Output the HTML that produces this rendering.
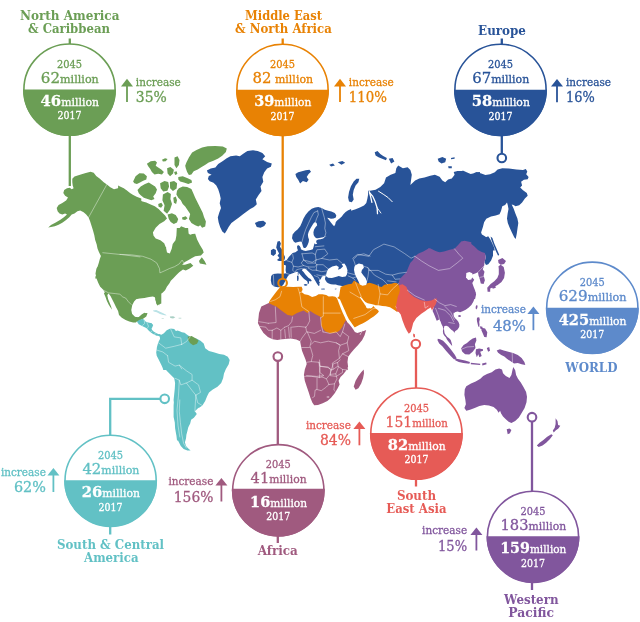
<!DOCTYPE html>
<html lang="en"><head><meta charset="utf-8"><title>Diabetes prevalence by region 2017-2045</title>
<style>html,body{margin:0;padding:0;background:#fff}svg{display:block}</style></head>
<body><svg width="640" height="622" viewBox="0 0 640 622">
<rect width="640" height="622" fill="#fff"/>
<g id="map">
<path d="M206.9 170.4L210.7 168.6L215.4 167.6L218.2 163.9L222.9 161L226.7 158.2L230.4 156.3L236.1 155.4L239.8 156.3L243.6 153.5L247.4 151.1L253 150.3L257.7 151.1L262.4 152.9L265.2 156.3L262.4 159.2L267.1 162L271.8 163.5L270.9 166.7L267.1 168.6L264.3 172.3L262.4 177L263.3 181.7L260.5 186.4L261.5 191.1L258.6 194.9L255.8 199.6L256.8 204.3L253.9 207.1L250.2 209L246.4 211.8L242.7 214.6L238.9 217.5L235.1 220.3L231.4 223.1L228.6 226.9L226.7 230.6L224.8 233.4L222.3 231.6L220.1 226.9L218.6 222.2L217.8 217.5L219.2 212.8L221 208.1L219.7 203.3L220.7 198.6L219.7 193.9L218.2 189.2L216.3 185.5L213.5 182.7L209.7 181.2L207.9 178.9L208.8 176.1L211.6 174.8L207.9 172.9ZM254.9 223.1L258.6 221.2L263.3 220.7L266.2 223.1L264.3 225.9L260.5 227.8L256.8 226.9ZM295.4 174.1L298.2 172.2L302 171.3L305.7 170.3L309.5 169.8L311 171.7L308.6 174.1L306.7 176.9L308.6 179.7L306.7 182.2L302.9 181.1L300.1 183.5L298.2 179.7L296.3 176.9ZM329.2 164.7L333 163.4L334.9 165.6L331.1 166.6ZM337.7 162.3L342.4 160.9L345.2 162.8L341.5 164.7ZM348.1 197.6L349 192L350.9 186.3L353.7 181.6L356.5 178.8L359.3 178.8L358.4 182.2L355.6 185.4L353.7 190.1L352.8 194.8L353.7 199.5L351.8 202.3L349 201.4ZM293.7 241.6L292 238.3L292.6 234.5L294.8 231.7L297.5 229.5L300.2 226.2L301.9 222.4L303.5 218.6L305.7 214.8L308.4 211.5L311.7 208.7L315 207.4L318.3 207.1L321.6 207.9L324.8 209.8L328.1 210.7L331.4 211.5L334.7 213.1L336.3 215.3L335.8 217.5L333.6 218.6L330.9 218.8L328.7 218L327.2 217.7L329.2 220.2L330.9 222.4L332.5 224.6L334.1 226.2L335.2 224.6L335.8 221.9L337.4 220.2L339.6 218.6L341.8 216.4L343.4 214.2L345.6 212L347.8 210.4L351.1 209L351.1 239.4L324.8 236.6L323.2 237.2L320.5 237.7L317.7 238.3L316.6 238.3L315 237.2L313.7 235L313.4 232.3L314.1 229.5L315.5 227.3L317.2 225.2L316.6 223L315 221.9L313.4 223.5L311.7 226.2L310.1 229L308.7 231.7L307.9 234.5L308.2 237.2L309 239.4L308.7 242.1L307.9 244.3L306.8 246.5L305.4 248.1L303.8 248.1L303 246.5L302.4 244.3L301.7 242.1L300.2 241.6L298 242.1L295.3 242.7ZM277.5 241.6L279.7 240.9L280.9 243.6L280 246.7L282.2 249.8L283.4 253.4L285 256.9L284.7 259.4L282.2 260.9L278.8 260.9L276.9 260L279.4 258.1L277.5 255.6L279.1 253.4L277.5 250.6L276.2 247.5L276.9 244.1ZM270.9 250.3L273.4 248.8L275.9 250L275.9 253.8L273.4 255.9L270.9 254.4ZM284.1 264.9L283.2 262.5L285 262.5L286.9 259.7L288.8 256.9L290.7 255L292.6 253.1L295.4 252.2L296.4 251.4L298 250.3L297.3 248.7L297 246.5L298 245.1L299.7 245.9L300.8 248.1L300.8 249.2L301.9 249.8L303.5 250.5L305.7 250.9L307.9 250.5L310.6 250.1L312.8 249.2L313.4 247.6L313.9 245.4L314.5 243.2L315.5 244.3L317.2 243.7L316.1 242.1L316.6 240.2L318.3 239.6L320.5 239.2L323.2 238.5L324.8 237L327 236.1L327 227.3L329.2 220.2L330.9 222.4L332.5 224.6L334.1 226.2L335.2 224.6L335.8 221.9L337.4 220.2L339.6 218.6L341.8 216.4L343.4 214.2L345.6 212L347.8 210.4L350.9 210.8L355.6 209.3L359.9 207.4L364 205.5L366.3 202.9L367.4 198.6L368.2 193.9L370.6 192L372.5 194.8L373.1 199.5L374.4 204.2L375.3 208.9L376.3 213.6L378.1 214.5L380 210.8L379.1 206.1L377.2 200.4L378.1 195.7L381 192.9L381.9 188.2L384.7 184.4L387.5 179.7L391.3 177.9L391.3 264.9ZM371.6 260L371.6 287.3L348.1 287.3L340.7 285.8L337.9 285.2L335.8 284.4L333.3 284.6L330.9 284.2L328.8 283.4L327 282.4L325.6 280.6L324.9 278.9L325.4 277.1L325.9 275.4L324.9 275.7L323.5 276.1L322.1 276.4L321.4 277.8L320.7 279.2L319.6 279.9L318.9 281L320 282.4L319.3 283.4L319.6 285.2L318.6 285.9L317.5 284.5L316.4 282.7L315.4 281L314.3 279.2L313.4 277.5L312.2 275.7L310.8 274L309.1 272.2L307.3 270.4L305.5 269L304.1 268.7L302.7 269L302 270.6L303.6 272.1L305.2 274.2L307 276.3L308.7 277.9L310.5 279.1L311.7 280.4L311 281.5L309.8 281L308.9 281.5L309.1 282.7L308.5 283.9L307.5 283.4L307.7 282L306.3 280.4L304.1 278.9L302 276.8L300.3 274.7L298.5 272.5L296.4 271.1L297.3 271.4L295 272.5L291.9 273.4L289.5 274.4L288 275.9L286.4 278.8L284.8 281.9L283.3 284.7L280.9 286.9L277.8 287.3L273.9 286.6L271.6 284.2L270.8 280.3L271.2 275.9L273.1 274.1L277.8 273.4L282.5 273.8L286.2 273.3L285.6 270.2L285.9 266.2L284.8 263.4L282.2 261.9L284.8 260.8L287.2 260ZM303.8 284.4L305.5 283.9L307.5 284.4L307 285.6L305.2 285.8L304 285.2ZM297 275.7L298.4 275.4L298.7 278.5L298.2 281L297.1 280.8ZM297.7 272.5L298.5 272.4L298.7 274.7L297.8 274.8ZM321 288.7L324.5 288.6L324.9 289.4L321.4 289.6ZM334.4 289.1L336.5 288.6L336.1 289.6ZM348.1 228.1L471.3 228.1L471.3 252.6L461 252.6L455.3 267.6L406.4 287.4L348.1 287.4ZM368.1 190.8L370 190.8L375.6 189.8L380.3 187L384.1 183.3L386 177.6L390.7 174.8L395.4 172.9L396.3 168.2L398.2 165.4L402.9 168.2L407.6 167.3L410.4 170.1L411.8 174.8L411 180.4L410.4 185.1L415.1 180.4L419.3 178.6L424.5 177.6L430.2 175.7L434.9 174.8L439.6 176.7L442.4 180.4L445.2 182.3L448.1 179.5L451.8 178.6L454.6 174.8L453.7 172L457.5 171L462.2 171L465.9 172.9L470.6 173.9L475.3 172.9L480 172L480 258.5L368.1 258.5ZM374.7 152.2L377.5 150.9L380.3 154.1L383.2 156L386.9 157.9L386 160.3L382.2 158.8L378.5 157.3L375.6 155.4ZM388.8 158.8L392.6 157.9L394.4 161.6L391.1 163.5ZM437.7 158.8L442.4 156.9L446.2 158.8L445.2 162.2L441.5 163.5L438.6 161.6ZM450.9 157.9L454.6 157.3L454.6 158.8L451.2 159.2ZM448.1 166.3L451.8 166.3L451.8 168.2L448.6 168.2ZM458.1 173.6L460 173.3L462.8 170.4L466.6 172.3L471.3 174.2L476 172.3L480.7 173.3L485.4 175.1L490.1 174.2L494.8 172.3L497.6 169.5L502.3 168.2L508.9 168.6L516.4 169.5L523 169.9L525.8 169.1L527.3 171.4L526.2 174.2L528.6 177L527.7 179.3L523.9 179.8L521.1 181.7L522.1 185.5L520.2 187.4L523 190.2L526.8 193L527.7 195.8L524.9 198.6L522.1 202.4L519.2 205.2L515.5 206.2L513.6 204.9L511.7 204.5L513.6 208.6L515.5 213.7L517.4 218.4L518.3 223.1L517.6 227.8L516.8 233.4L515.7 239.1L514.2 237.2L511.9 232.5L509.7 227.8L507.8 223.1L507 218.4L507.6 213.7L508.5 209L507.8 205.2L507 202.4L505.1 204.9L502.3 206.2L501 210.9L499.5 214.3L495.7 215.6L491 216.5L486.3 218.8L484.1 222.2L482.9 226.9L481.1 232.5L482.2 235.3L485.4 237.6L488.2 236.3L490.1 239.1L492 242.8L493.9 247L494.8 250.4L458.1 250.4ZM428.1 218.1L483.6 218.1L481.7 225.6L479.8 233.2L484.5 236L488.3 238.8L491.1 244.4L493 250.1L493 255.7L491.1 260.4L488.3 264.2L486 265.1L484.5 262.3L485.7 257.6L484.9 253.5L428.1 257.6ZM490.6 236.6L492.4 237.9L494.3 243.5L496.8 249.2L499.2 254.8L498.1 255.7L495.8 251L493.6 245.4L491.3 239.7Z" fill="#285398"/>
<path d="M398.5 283.6L399.8 278.9L403.6 275.1L406.4 272.3L408.3 267.6L410.2 262.9L413 260.1L414.9 256.3L418.6 253.5L423.3 251.6L428.1 248.8L432.8 249.7L438.4 252.6L444 251.6L449.7 249.7L454.4 248.8L458.1 245L461 241.7L465.7 240.9L471.3 242.2L471.3 302.4L432.8 302.4L425.2 303.7L419.6 302.4L414.9 300L410.2 296.2L407.4 291.5L404.5 287.7L398.5 284.9ZM428.1 248.2L430 248.2L435.6 251L441.3 252.9L448.8 252L454.4 250.1L459.2 246.3L461 241.6L464.8 240.7L469.5 242.6L474.2 246.3L478 250.1L481.7 252L484.9 252.9L485.7 257.6L484.5 262.3L484.2 265.7L482.7 269.3L484.5 271.7L483.6 275.5L484.9 280.2L483.6 283.9L480.8 283.6L479.8 279.2L478.5 275.5L478 272.3L475.1 273.6L472.3 274.5L468.6 273.6L466.7 276.4L469.5 278.3L472.3 277.4L474.2 279.8L472.3 283L473.6 286.8L475.1 290.5L476.1 294.3L475.1 299L474.4 298.8L473.3 301.8L471.4 305L468.7 307.5L465.7 309.7L462.5 311.2L460.1 312.2L457.5 311.6L455.6 312L454.4 313.1L450.7 308.4L448.8 302.8L428.1 302.8ZM476.7 305L477.6 305.7L477.3 307.9L476.3 309.5L475.6 308.2L475.8 306.3ZM498.1 259.9L502.4 258L506 261L504.1 264L500.7 264.8L498.5 262.9ZM500.7 264.8L503.7 267L504.9 272.7L504.1 277.9L501.5 282.1L497.7 285.1L493.6 287L489.8 288.8L487.9 287L490.6 283.9L494.3 281.3L497.3 277.9L498.8 274.2L498.8 269.3L498.5 266.3ZM487.2 287.3L490.2 288.1L490.2 291.8L487.6 291.8ZM492.1 287.3L495.5 286.2L495.8 287.7L492.8 288.8ZM436.4 298.1L475.7 292.5L475.7 295L474.5 298.8L473.2 301.9L471.3 305L468.8 307.5L465.7 309.7L462.6 311.3L460 312.2L457.5 311.6L455.7 311.9L454 312.2L453.5 313.8L453.8 316.3L455.1 318.2L457 320L458.5 321.9L459.4 324.4L459.2 326.9L457.6 329.4L455.1 331.3L454 333.5L454.2 332.6L453.2 331L451.3 329.7L449.8 328.2L448.2 326.6L446.3 325.7L444.4 326L443.9 328.2L444.2 330.7L444.6 333.2L445.7 335.1L447.3 337L449.1 338.2L450.7 340.1L451.5 342.6L452.1 344.8L452.1 345.9L451.3 345.1L449.8 343.2L448.2 341.3L446.9 339.5L446 337.6L444.4 335.7L443.2 333.8L442.9 331.3L443.2 328.8L442.6 326.3L441.6 324.4L440.7 321.9L439.4 319.4L438.2 320L436.9 320.7L436.6 320.6L435.4 317.5L433.9 313.7L432.6 310.9ZM458.2 315.4L459.7 314.9L461.1 315.7L460.7 316.8L459.1 317.1L458 316.3ZM437.8 338.8L440 339.2L443.1 340.8L447 344.7L450.9 349.4L454.8 354.8L456.7 358.3L454.1 359.4L450.2 355.6L446.2 350.9L442.3 346.2L439.2 343.4L437.5 340.3ZM455.3 358.4L460.3 359.4L465 360.6L470 361.9L469.4 363.8L463.4 363L458.8 361.9L455.2 360.3ZM461 348.5L463.6 345.1L467 342.9L469.8 340.4L472.7 338.6L476 337.6L476.4 340.4L474.9 344.2L475.5 348L472.7 351.7L469.3 354.5L465.1 354.2L462.3 351.7ZM476 349.3L479.2 348.5L483 349.3L483 350.8L480.2 351.7L481.7 356L479.4 357.2L478.3 354.2L476.8 357.2L475.5 353ZM477.3 317.6L479.2 317.3L479.8 319.5L479.2 322L479.5 324.5L479.2 327.3L478.2 326.3L477.6 323.8L477 321.3L476.8 319.1ZM481.7 327.8L485.1 328.6L487.3 332.3L486.6 337.2L484.3 336.9L482.8 333.5L481.3 330.1ZM479.8 326.3L482.4 326.7L482.8 329.3L480.6 329ZM496.7 350.4L499.9 349.3L503.7 350.4L508.4 351.7L513.1 353L517.8 354.9L521.6 357.9L524.4 362.1L525.3 364.9L521.6 364.3L517.8 363L514 363.6L510.3 361.1L506.9 358.7L504.3 356.4L501.2 354.9L498.1 352.7ZM482.1 363.6L486.2 362.6L486.6 364.3L482.4 365.5ZM470.8 362.8L480.2 363.8L480.2 365.1L470.8 364.3ZM486.8 348L489.2 347L490 350.8L488.1 351.7ZM464.8 389.2L466.3 386.3L471 383.5L475.7 381.6L480.4 378.8L483.2 376L487 374.1L491.7 372.2L495.4 369.4L499.2 368.5L502 369.4L503 373.2L505.8 376L509.5 377.9L511.4 375L512.4 370.3L513.3 367.1L515.2 370.3L516.1 375L518 378.8L520.8 382.6L523.6 387.3L526.1 392L527 396.7L526.5 402.3L524.6 408L521.8 412.7L518.9 417.4L515.2 421.1L511.4 423L508.6 421.7L505.8 419.2L503 416.4L501.1 413.6L500.1 410.8L498.6 412.7L496.8 409.8L493.6 407L488.9 405.5L484.2 405.1L479.4 406.1L474.7 408L470 409.8L466.3 410.8L464.4 408L465.9 404.2L465.3 399.5L464.4 394.8ZM506.7 429.2L509.5 428.6L511.4 430L509.9 433.3L507.7 434.3ZM555.6 418.3L557.5 421.1L558.1 424.9L560.3 425.8L558.4 428.6L555.6 430.5L553.7 432.4L552.8 430.5L554.7 427.7L555.6 423.9ZM551.3 434.3L552.8 435.2L550 439L546.2 442.8L542.5 445.6L538.7 446.9L536.8 445.6L539.6 442.8L543.4 439.9L547.2 436.7Z" fill="#81569d"/>
<path d="M402.5 284.3L406.3 286.8L408.8 292.4L413.8 296.8L420.1 299.9L426.4 301.2L431.4 300.6L433.9 299.3L436.4 298.3L437 300.6L435.8 304.3L433.3 308.1L432 310.6L430.8 307.5L427.6 309.3L425.1 311.2L421.3 313.7L416.3 318.1L413.2 323.1L411.9 328.2L410.7 331.9L408.8 333.8L406.9 330.7L405 326.9L402.5 320.6L400.7 314.4L398.8 311.9L395.6 310.9L396.3 307.5L395 303.1L395 290.5L399.4 284.9ZM413.3 333.4L414.8 334.2L415.1 336.9L413.8 337.4L413.1 335.4Z" fill="#e65b56"/>
<path d="M268.8 303L269.7 300.8L271.6 298L274.4 294.2L277.3 290.4L280.1 287.2L282.9 287.6L287.6 286.7L293.3 287.1L298.9 286.7L301.7 286.7L302.7 289.5L301.7 292.3L304.5 294.2L308.3 295.1L312.1 297L315.8 296.1L318.6 294.2L322.4 294.2L326.2 295.1L328.7 296.4L332.5 296.2L335.3 296.7L336.7 297.9L337.7 300L339.1 303.7L340.9 308.4L342.8 313.1L344.7 316.9L346.1 320.2L347.3 322.4L349.7 324.8L348.5 324.8L342.1 329.6L337.2 333.7L330 334.5L321.5 332.8L272.6 332.8L270.7 306.4ZM337.2 298.1L339.1 296.2L339.5 293.4L340 290.6L340.5 287.8L340.5 287.1L344.1 285.4L348.3 284.2L351.8 283.7L353.3 281.4L354 280.4L356.1 281.8L358.2 283.3L360.3 284L362.5 285.1L366 284.7L367.4 283.3L369.5 282.8L373.1 283.7L376.6 285.1L379.4 286.5L381.6 287.1L384.4 284.7L387.9 284L391.5 283.7L394.3 282.8L397.1 283.3L398.5 284.2L399.2 287.1L399.9 290.3L399.2 293.2L397.8 296.7L397.1 300.2L396.4 303.8L395.7 306.6L396.4 309.4L397.5 312L393.6 309.4L390 307.3L385.8 306.3L382.3 305.9L378.7 305.2L378.4 305.2L375.6 305.2L374.2 304.7L372.3 304.2L370 303.7L367.7 303.3L365.3 301.9L363.4 300L362 298.1L360.2 296.7L359.7 297.2L360.2 298.1L361.6 300L363 301.9L363.9 303.3L364.8 304.7L365.8 306.1L366.2 307.5L367.7 308.4L369.5 308.2L370.9 308.4L372.3 307.5L373.3 306.1L374.2 307L375.6 308.4L377.5 309.8L378.9 311.2L378 312.7L376.1 314.5L373.7 316.4L370.9 318.3L368.1 320.2L365.3 322L362.5 323.4L359.7 324.8L356.9 326.2L355 327.2L354.5 327.2L353.1 325.3L351.2 322.5L348.9 319.2L347 315.5L345.2 311.2L343.3 307L341.4 302.8L340 299.5Z" fill="#e88204"/>
<path d="M272.6 304.9L276.3 306.4L281 310.2L287.6 314.9L292.3 315.8L297 313L303.6 310.6L307.4 313L310.2 311.1L314.9 313.9L321.5 317.3L321.1 325.2L323.3 329L325.2 331.2L330 333.3L334 332.9L337.2 332.1L339.6 330.5L342.1 327.2L344.1 323.2L345.7 320.4L346.5 320.8L347.3 322.4L349.7 324.8L351.7 327.2L353.3 329.6L354.9 332.1L357.3 332.9L360.5 332.1L363.8 330.9L366.2 330L364.6 335.3L362.2 340.1L358.1 344.9L354.1 349.3L350.9 353L348.5 356.2L347.3 360.2L346.9 364.2L347.7 368.2L348.1 370L340.3 370.4L308.3 370.4L307.4 362.8L305.5 357.2L303.6 352.5L302.7 347.8L303.6 344L300.8 341.2L297 338.4L292.3 337.5L287.6 338.4L282 339.3L277.3 339.9L272.6 339.3L267.9 336.9L263.5 333.1L260.3 328.1L257.9 323L258.5 317.7L259 313L261.3 306.4L268.8 303ZM268.1 334.7L360.3 334.7L363.1 330L360.3 333.8L356.5 338.5L353.7 343.2L350.9 347.9L349 352.6L348.1 357.3L347.5 362L348.1 366.7L346.2 370.4L343.3 374.2L340.5 377L338.6 380.8L339.6 384.5L337.7 388.3L334.9 393L331.1 397.7L327.4 401.1L322.7 403.3L318 404.9L314.2 405.2L312.3 402.4L310.4 397.7L308.6 392.1L306.7 386.4L304.8 380.8L303.9 375.1L304.8 369.5L306.7 363.9L305.7 360.1L303.9 355.4L302 350.7L301 346L300.1 341.3L296.3 339.4L290.7 338.5L285 339L279.4 339.4L274.7 338.5L270 336.6L268.1 336.6ZM353.7 386.4L355.6 380.8L358.4 376.1L361.2 372.3L363.7 369.5L364 373.3L363.1 378L361.2 383.6L358.4 388.3L355.6 389.8Z" fill="#a05a7f"/>
<path d="M72.3 178.8L74.5 176.6L79.2 175L84.9 173.2L90.5 171.7L93.7 172.8L96.2 176L99.9 178.8L103.7 182.2L106.9 184.4L110.3 187.3L114 189.2L117.8 188.2L122.5 188.2L126.3 190.1L130 192.9L132.8 194.8L136.6 196.7L141.3 198.6L141.3 278.5L95.2 278.5L96.2 272.8L97.1 268.1L98.6 263.4L99.9 258.7L100.9 255.9L99 252.2L97.5 248.4L96.7 244.6L95.2 239.9L94.3 235.2L93 230.5L91.5 225.8L90 221.1L88.6 217.4L86.2 214.5L83.6 212.3L80.2 210.4L77.4 211.2L74.5 213.6L71.7 214.5L69.3 217.2L66.1 220L62.3 222.8L58.6 224.7L54.8 226.2L51 227.1L48.2 227.5L51 224.9L55.7 222.4L60.4 219.8L64.2 217L67 214.5L65.1 213.6L62.3 214.5L59.5 213.6L57.6 211.2L56.7 208L58.6 205.1L62.3 202.9L66.1 200.4L68 197.6L65.1 195.7L63.3 192.9L64.2 190.1L67 188.2L69.8 187.8L71.7 189.2L73.6 188.2L72.7 185.4L72.3 182.2ZM118.1 185.5L120 186.4L123.8 188.3L127.5 191.1L131.3 193.9L135 197.3L138.8 200L142.6 201.5L146.3 202.4L150.1 204.3L154.8 206.2L158.6 209L162.3 212.8L165.1 215.6L167 218.4L164.2 221.2L159.5 224L155.7 227.8L152.9 232.5L153.9 237.2L157.6 240L162.3 242.8L166.1 247L166.1 250.4L118.1 250.4ZM133.1 181.4L135.6 176.3L139.4 173.2L143.8 173.6L146.9 176.3L146.3 179.5L143.2 180.7L140 182.6L136.9 183.9L134.4 183.2ZM137.5 190.1L140.7 186.4L145 183.9L148.8 182.6L151.9 184.5L155.1 186.4L157 189.5L155.7 193.3L153.2 196.4L154.5 198.9L151.3 200.2L147.6 198.9L143.8 197.7L140.7 195.2L138.8 193.3ZM146.9 163.8L150.7 161.3L155.1 160.7L157 162.6L155.7 165.7L158.2 167.6L161.3 169.5L163.9 172L162 174.5L158.2 173.8L154.5 174.5L151.9 172L150.1 168.8L148.2 166.3ZM167.1 168.2L170.4 166.9L173.9 169.8L173.1 173.6L170.1 176.3L167.6 173.6ZM174.1 172L176.6 171.3L177.4 174.1L175.1 175.1ZM162 159.8L165.1 158.2L167.6 159L165.7 161.3L162.9 161.6ZM160.1 183.2L164.5 181.1L168.2 182L169.1 186.4L167.4 190.8L163.2 191.6L160.7 188.3ZM169.9 182L174.1 181.1L177.1 183.2L176.6 188.6L172.9 190.9L170.1 188.3ZM178.3 177L182.7 176.3L187.7 178.2L191.4 180.1L192.1 182.6L188.3 183.9L183.9 182.6L180.2 181.4L178.3 179.5ZM174.5 157.5L177.6 156.3L179.5 160L178.9 165.1L176.4 168.2L174.5 165.1ZM186.4 162.6L188.9 157.5L192.1 152.5L196.5 150L202.1 147.5L207.7 146.3L215.3 146L222.8 146.5L226.8 148.5L225.9 151.9L222.2 155.7L218.2 158.5L213.4 160.7L208.7 162.6L205 165.1L201.2 167.3L197.7 169.5L193.7 171.3L191.4 174.5L188.9 175.1L187.1 172L185.8 168.2L185.2 165.7ZM162.9 194.5L167.6 192L170.9 193.9L170.4 198.9L172 203.9L170.1 209.6L167.1 213.7L163.6 210.8L164.6 205.2L162.4 200.2ZM158.2 203.9L161.3 202.7L162.9 205.2L161.1 207.7L158.6 206.7ZM173.3 197.7L175.8 196.4L177 200.2L176.1 203.9L173.9 202.7ZM178.9 188.3L182.7 186.4L187.1 187L191.4 188.9L193.3 193.3L195.2 197.7L197.7 202.7L200.2 207.7L202.7 212.7L204 217.1L205.9 221.5L205.2 226.5L202.1 227.8L200.2 225.3L198.3 226.5L195.2 225.3L191.4 223L188.9 219L190.2 214L187.7 210.2L185.2 206.4L182.7 203.9L180.8 200.2L178.3 197.7L176.4 194.5L177 190.8ZM167.6 214.5L171.9 213.2L175.7 215.1L178.2 218.9L177 222.6L173.8 223.9L170.7 222L168.8 218.9ZM182 217.6L185.7 216.3L187.6 218.2L185.1 220.1L182.4 219.5ZM169.3 216.5L172.7 214.6L175.5 218.4L174.5 222.2L170.8 221.2ZM176.4 250.4L177.4 241L176.4 235.3L178.3 229.7L181.1 226.3L184.9 227.8L187.7 232.5L190.5 235.3L194.3 239.1L196.2 242.8L197.5 250.4ZM118.1 228.1L152 228.1L152 230L152.9 234.7L155.7 238.5L160.4 240.3L164.2 243.2L166.1 247.9L167 252.6L169.8 253.5L171.7 248.8L172.7 244.1L175.5 240.3L176.4 235.6L176.8 228.1L188.1 228.1L188.8 235.3L192.4 234.1L195.2 233.8L197.1 239.4L199.9 245L202.8 249.7L203.7 252.6L200.9 255.4L195.2 256.3L191.5 258.2L188.6 260.1L184.9 262L182.1 264.8L184.9 264.8L190.5 262.9L193.3 265.7L189.6 268.6L185.8 270.4L183 269.5L179.2 272.3L176.4 275.1L173.6 278L170.8 280.8L169.3 283.6L167 286.4L165.1 290.2L162.3 293L159.5 294.9L157.6 297.7L158.6 301.5L159.5 305.2L157.6 304.3L155.7 300.5L154.8 297.3L152 295.8L148.2 296.2L144.4 296.8L140.7 297.7L136.9 298.6L134.1 301.5L132.2 305.2L131.3 309.9L132.2 314.6L135 317.5L138.8 316.9L141.6 314.6L144.4 312.8L147.3 313.7L146.3 316.5L143.5 318.4L140.7 319.9L138.8 322.2L136.9 321.2L134.1 320.3L130.3 318.4L126.6 315.6L122.8 312.8L118.1 309ZM199 261L201.8 257.3L204.6 261L206.5 264.8L202.8 263.9L199.9 263.5ZM161.3 248.1L161.3 303.6L158.9 304.5L157.5 300.8L155.7 297.4L152.8 296.6L149.1 297L144.4 298L139.7 298.5L135.9 299.3L133.1 301.7L131.2 305.5L130.8 310.2L132.2 313.9L135 316.8L138.7 317.7L142.5 316.8L144.4 313.9L147.6 313L146.3 315.8L143.4 318.1L140.6 319.2L137.8 320.5L135.9 322.4L133.1 322.4L129.3 321.5L125.6 320L121.8 317.7L119 314.9L118.1 311.1L116.2 307.4L114.3 303.6L112.4 299.8L110.5 296.1L108.6 293.6L107.3 295.1L108.1 298.9L109.6 302.7L111.1 306.4L112 309.8L110.5 307.4L108.6 304.5L106.8 300.8L105.5 297L103.9 293.3L104.9 292.3L103 289.5L100.2 286.7L98.3 282.9L96.4 278.2L95.5 273.5L96.4 268.8L98.3 265L100.2 261.3L102.1 257.5L101.1 253.8L99.2 248.1Z" fill="#6b9e55"/>
<path d="M136.9 321.5L139.7 320L143.1 319.2L145.3 321.5L148.1 322.4L151.9 323.3L152.8 326.2L151 328.1L152.8 330.9L155.7 332.8L158.5 334.6L161.3 335L161.3 336.5L156.6 335.6L152.8 333.7L149.1 330.9L146.3 328.1L142.5 326.2L138.7 324.3ZM141.3 321.9L146 322.8L149.7 325.6L151.6 329.4L154.4 332.2L158.2 334.1L161 335L163.9 333.2L166.7 330.3L170.4 328.5L174.2 329L176.1 331.3L179.3 331.7L183.6 333.2L187.4 335.4L190.2 336.9L193 337.9L196.8 338.8L200.5 340.7L203.7 343.5L205.2 348.2L209 351L213.7 352.3L219.3 353.9L224 354.8L227.8 356.7L229.7 359.9L228.7 364.2L225.9 368.9L224 373.6L223.1 378.3L221.2 383L217.5 386.8L212.8 389.6L209 392.4L207.1 396.2L205.2 400.9L202.4 405.6L199.6 407.5L196.8 408.4L194.9 411.2L196.8 414L193.9 417.8L191.1 419.7L190.2 423.4L188.3 427.2L187.4 431L186.4 434.7L185.5 440.4L177 440.4L176.1 432.8L175.1 428.1L174.8 422.5L173.6 416.9L173.6 411.2L174.2 405.6L173.6 399.9L174.2 394.3L174.8 388.6L175.1 383L174.2 378.3L170.4 374.5L166.7 370.8L162.9 366.1L160.1 361.4L157.3 356.7L156.3 352L156.9 347.3L158.2 342.6L160.1 338.8L159.7 336.6L156.3 335L152.6 333.2L148.8 329.4L146 325.6L141.3 323.8ZM204.3 398.1L203.3 403.8L200.5 406.6L197.7 408.5L194.9 411.3L193 415L192.1 417.9L190.2 420.7L189.2 424.4L187.4 428.2L185.5 431L186.4 434.8L186 438.6L184.9 442.3L186 446.1L188.3 448.5L190.6 450.4L187.4 450.4L183.6 448.9L180.8 446.1L178.9 442.3L177 438.6L176.1 433.9L175.1 428.2L174.8 422.6L174.2 416.9L173.6 411.3L173.6 405.6L174.2 398.1ZM137.9 320.8L139.8 319.7L142 319.1L144.1 319.5L146.3 322.4L149.1 323L151.8 323.5L153.2 324.9L152.3 327.3L151.2 329.5L151.8 331.2L152.9 332.3L155.1 333.4L157.3 334.5L159.5 333.9L161.1 334.8L162.7 336.1L163.8 333.9L166 331.7L168.2 330.1L170.9 329L173.1 330.1L175.3 331.2L177.5 330.6L179.7 331.2L181.9 332.3L184.6 332.8L186.8 334.5L189 336.1L190.6 337.7L192.8 339.4L196.1 341.6L196.1 370L163.3 370L162.7 368L161.6 365.6L160 362.3L158.4 359.1L156.7 355.8L156.2 352.5L156.7 349.2L157.8 345.9L159.5 343.2L161.1 339.9L162 337.7L160 336.3L158.4 335.4L156.7 335.8L154.5 334.7L152.3 333.6L150.2 331.9L148.5 330.3L146.9 328.1L144.1 326.5L141.4 325.4L139.2 323.7L138.1 321.5Z" fill="#62c1c5"/>
<path d="M355.4 265.3L358.9 263.6L363 264.4L363.9 267.8L361.9 270.1L361.3 272.6L363.3 275.2L365.6 278L367 281.8L366.1 285.1L362.5 285.7L359.8 284.4L358.2 280.7L356.4 277.2L354.7 273.6L354 269.8L354.4 266.7Z" fill="#fff"/>
<path d="M325.9 275.9L326.6 272.5L328.1 269.1L332.2 266.6L336.4 265.6L338.8 267L338.1 269.7L340.6 268.8L343.1 266.2L341.6 264.1L344.4 263.4L346.2 266.2L347.5 270.2L346.9 274.4L345.6 276.6L342.2 276.9L338.8 275.9L335.6 276.9L331.9 278.1L328.1 277.8Z" fill="#fff"/>
<path d="M466.3 272.9L469.4 272L472.3 273.2L472.5 276.4L471.3 279.5L468.2 280.1L466 277.6Z" fill="#fff"/>
<path d="M187.7 336.7L191.6 335.9L195.5 338.3L198.6 340.6L197 343.8L193.1 345.3L190 343L188.1 339.8Z" fill="#6b9e55"/>
<path d="M152.9 310.4L156.2 310.1L159.5 311.5L162.7 313.1L166 314.8L166.6 315.5L163.3 315L160 313.9L156.7 312.2L153.7 311.5Z" fill="#b9e2e6"/>
<path d="M169.8 316.4L173.1 316.2L175.3 317.3L173.1 318.4L170.4 318Z" fill="#a9cfc4"/>
<path d="M178.6 317.8L181.3 317.8L181.3 318.5L178.6 318.5Z" fill="#a9cfc4"/>
<path d="M161.6 317.9L163.8 318.2L163.8 318.7L161.7 318.6Z" fill="#a9cfc4"/>
<path d="M156.2 298.9L157.8 302.2L158.4 304.9L157.3 305.5L156.2 303.3L155.4 298.9Z" fill="#6b9e55"/>
<path d="M370 193.2L372.8 196.4L375.3 202.1L377.1 207.7L377.5 213.7" fill="none" stroke="#fff" stroke-width="1.3" stroke-opacity="1" stroke-linejoin="round" stroke-linecap="round"/>
<path d="M377.1 207.7L380.9 213" fill="none" stroke="#fff" stroke-width="0.9" stroke-opacity="1" stroke-linejoin="round" stroke-linecap="round"/>
<path d="M378.5 191.2L383.2 194.2L387.9 197.4L392.2 201.7" fill="none" stroke="#fff" stroke-width="1.0" stroke-opacity="1" stroke-linejoin="round" stroke-linecap="round"/>
<path d="M369.3 191.6L370.6 196.7L371.9 202.3" fill="none" stroke="#fff" stroke-width="1.3" stroke-opacity="1" stroke-linejoin="round" stroke-linecap="round"/>
<path d="M106.9 184.4L88.6 217.4" fill="none" stroke="#fff" stroke-width="0.7" stroke-opacity="0.6" stroke-linejoin="round" stroke-linecap="round"/>
<path d="M102.8 252.7L121.6 254.6L140 256.9" fill="none" stroke="#fff" stroke-width="0.7" stroke-opacity="0.6" stroke-linejoin="round" stroke-linecap="round"/>
<path d="M120 254.4L131.3 254.8L142.6 256.3L151 259.2L156.7 262.9L159.5 268.6L159.9 272.9L164.2 271L169.3 268.6L174.5 266.7L179.2 263.9L182.1 260.1L183.9 262.9" fill="none" stroke="#fff" stroke-width="0.7" stroke-opacity="0.6" stroke-linejoin="round" stroke-linecap="round"/>
<path d="M103.9 290.4L108.6 292.9L115.2 293.6L119.9 294.2L122.8 297L125.6 298L128.4 301.7L131.2 304.5" fill="none" stroke="#fff" stroke-width="0.7" stroke-opacity="0.6" stroke-linejoin="round" stroke-linecap="round"/>
<path d="M281.6 291.2L280 296.7L275.3 299.8L270.6 301.4" fill="none" stroke="#fff" stroke-width="0.7" stroke-opacity="0.6" stroke-linejoin="round" stroke-linecap="round"/>
<path d="M298 288.1L299.5 292.8L300.3 296.7L301.1 302.2L301.9 306.9L308.9 311.6" fill="none" stroke="#fff" stroke-width="0.7" stroke-opacity="0.6" stroke-linejoin="round" stroke-linecap="round"/>
<path d="M299.5 292.8L301.9 292L302.7 289.7" fill="none" stroke="#fff" stroke-width="0.7" stroke-opacity="0.6" stroke-linejoin="round" stroke-linecap="round"/>
<path d="M323.3 296.7L323.3 316.2L320.6 317.8" fill="none" stroke="#fff" stroke-width="0.7" stroke-opacity="0.6" stroke-linejoin="round" stroke-linecap="round"/>
<path d="M323.3 313.1L340.2 313.1" fill="none" stroke="#fff" stroke-width="0.7" stroke-opacity="0.6" stroke-linejoin="round" stroke-linecap="round"/>
<path d="M275.3 306.9L276.1 322.5L268.3 323.3" fill="none" stroke="#fff" stroke-width="0.7" stroke-opacity="0.6" stroke-linejoin="round" stroke-linecap="round"/>
<path d="M292.5 317L291.7 321.7L288.6 325.6L284.7 327.2" fill="none" stroke="#fff" stroke-width="0.7" stroke-opacity="0.6" stroke-linejoin="round" stroke-linecap="round"/>
<path d="M308.9 312.3L309.7 320.9L307.3 325.6L305.8 327.2" fill="none" stroke="#fff" stroke-width="0.7" stroke-opacity="0.6" stroke-linejoin="round" stroke-linecap="round"/>
<path d="M291.7 327.2L298.8 326.4L305.8 327.2" fill="none" stroke="#fff" stroke-width="0.7" stroke-opacity="0.6" stroke-linejoin="round" stroke-linecap="round"/>
<path d="M320.6 317.8L321.4 325.6L323 331.9" fill="none" stroke="#fff" stroke-width="0.7" stroke-opacity="0.6" stroke-linejoin="round" stroke-linecap="round"/>
<path d="M307.3 331.9L314.4 333.4L320.6 330.3" fill="none" stroke="#fff" stroke-width="0.7" stroke-opacity="0.6" stroke-linejoin="round" stroke-linecap="round"/>
<path d="M305.8 327.2L306.6 331.9L301.9 338.1L300.3 341.2" fill="none" stroke="#fff" stroke-width="0.7" stroke-opacity="0.6" stroke-linejoin="round" stroke-linecap="round"/>
<path d="M272.2 330.3L272.2 338.9" fill="none" stroke="#fff" stroke-width="0.7" stroke-opacity="0.6" stroke-linejoin="round" stroke-linecap="round"/>
<path d="M280.8 330.3L280.8 338.9" fill="none" stroke="#fff" stroke-width="0.7" stroke-opacity="0.6" stroke-linejoin="round" stroke-linecap="round"/>
<path d="M284.7 329.5L285.5 338.1" fill="none" stroke="#fff" stroke-width="0.7" stroke-opacity="0.6" stroke-linejoin="round" stroke-linecap="round"/>
<path d="M288.6 327.2L289.4 337.3" fill="none" stroke="#fff" stroke-width="0.7" stroke-opacity="0.6" stroke-linejoin="round" stroke-linecap="round"/>
<path d="M290.9 327.2L291.2 337.3" fill="none" stroke="#fff" stroke-width="0.7" stroke-opacity="0.6" stroke-linejoin="round" stroke-linecap="round"/>
<path d="M258.9 321.7L264.4 322.5L268.3 323.3" fill="none" stroke="#fff" stroke-width="0.7" stroke-opacity="0.6" stroke-linejoin="round" stroke-linecap="round"/>
<path d="M259.7 326.4L265.9 327.2L268.3 330.3L272.2 330.3" fill="none" stroke="#fff" stroke-width="0.7" stroke-opacity="0.6" stroke-linejoin="round" stroke-linecap="round"/>
<path d="M272.2 330.3L276.9 328L280.8 330.3L284.7 327.2" fill="none" stroke="#fff" stroke-width="0.7" stroke-opacity="0.6" stroke-linejoin="round" stroke-linecap="round"/>
<path d="M301.9 347.5L309.7 347.5L311.2 341.2L307.3 331.9" fill="none" stroke="#fff" stroke-width="0.7" stroke-opacity="0.6" stroke-linejoin="round" stroke-linecap="round"/>
<path d="M310.5 347.5L312.8 355.3L311.2 361.6L319.1 362.3L319.8 366.2L328.4 367L330.8 370.2L333.1 369.4L332.3 363.1L339.4 358.4L338.6 350.6L340.2 345.2L336.2 342.8L328.4 341.2L320.6 342.8L314.4 341.2L311.2 344.4" fill="none" stroke="#fff" stroke-width="0.7" stroke-opacity="0.6" stroke-linejoin="round" stroke-linecap="round"/>
<path d="M306.6 362.3L311.2 361.6" fill="none" stroke="#fff" stroke-width="0.7" stroke-opacity="0.6" stroke-linejoin="round" stroke-linecap="round"/>
<path d="M319.1 362.3L319.8 372.5L323.8 375.6L316.7 376.4L306.6 375.6" fill="none" stroke="#fff" stroke-width="0.7" stroke-opacity="0.6" stroke-linejoin="round" stroke-linecap="round"/>
<path d="M323 331.9L330 333.4L336.2 331.9L340.2 336.6L342.5 331.9L344.8 324.1" fill="none" stroke="#fff" stroke-width="0.7" stroke-opacity="0.6" stroke-linejoin="round" stroke-linecap="round"/>
<path d="M336.2 342.8L340.2 345.2L347.2 342.8L348.8 336.6L342.5 331.9" fill="none" stroke="#fff" stroke-width="0.7" stroke-opacity="0.6" stroke-linejoin="round" stroke-linecap="round"/>
<path d="M347.2 342.8L348.8 350.6L342.5 353.8L339.4 358.4" fill="none" stroke="#fff" stroke-width="0.7" stroke-opacity="0.6" stroke-linejoin="round" stroke-linecap="round"/>
<path d="M342.5 353.8L348.8 356.9L351.1 363.1" fill="none" stroke="#fff" stroke-width="0.7" stroke-opacity="0.6" stroke-linejoin="round" stroke-linecap="round"/>
<path d="M349.5 370.2L342.5 369.4L337.8 366.2L333.1 369.4" fill="none" stroke="#fff" stroke-width="0.7" stroke-opacity="0.6" stroke-linejoin="round" stroke-linecap="round"/>
<path d="M330.8 370.2L330 375.6L336.2 376.4L342.5 372.5L342.5 369.4" fill="none" stroke="#fff" stroke-width="0.7" stroke-opacity="0.6" stroke-linejoin="round" stroke-linecap="round"/>
<path d="M303.5 376.3L311.3 376.3L319.5 377.6L322 376.9" fill="none" stroke="#fff" stroke-width="0.7" stroke-opacity="0.6" stroke-linejoin="round" stroke-linecap="round"/>
<path d="M317 378.2L317 389.5L315.1 390.1L314.5 396.4L312.6 397.6" fill="none" stroke="#fff" stroke-width="0.7" stroke-opacity="0.6" stroke-linejoin="round" stroke-linecap="round"/>
<path d="M317 389.5L321.3 390.7L326.4 387L328.9 384.5" fill="none" stroke="#fff" stroke-width="0.7" stroke-opacity="0.6" stroke-linejoin="round" stroke-linecap="round"/>
<path d="M322 376.9L326.4 378.8L328.9 384.5" fill="none" stroke="#fff" stroke-width="0.7" stroke-opacity="0.6" stroke-linejoin="round" stroke-linecap="round"/>
<path d="M326.4 378.8L330.1 374.4L335.8 373.8L337 378.8L334.5 383.8L328.9 384.5" fill="none" stroke="#fff" stroke-width="0.7" stroke-opacity="0.6" stroke-linejoin="round" stroke-linecap="round"/>
<path d="M334.5 383.8L333.9 390.1L335.1 391.3" fill="none" stroke="#fff" stroke-width="0.7" stroke-opacity="0.6" stroke-linejoin="round" stroke-linecap="round"/>
<path d="M319.5 360L320.1 366.3L319.5 377.6" fill="none" stroke="#fff" stroke-width="0.7" stroke-opacity="0.6" stroke-linejoin="round" stroke-linecap="round"/>
<path d="M320.1 366.3L327.6 367.5L331.4 369.4L330.1 374.4" fill="none" stroke="#fff" stroke-width="0.7" stroke-opacity="0.6" stroke-linejoin="round" stroke-linecap="round"/>
<path d="M335.8 373.8L338.3 367.5L337.6 362.5L340.2 360" fill="none" stroke="#fff" stroke-width="0.7" stroke-opacity="0.6" stroke-linejoin="round" stroke-linecap="round"/>
<path d="M331.4 369.4L333.3 363.8L337.6 362.5" fill="none" stroke="#fff" stroke-width="0.7" stroke-opacity="0.6" stroke-linejoin="round" stroke-linecap="round"/>
<path d="M327.2 397L328.2 396L329.2 397L328.2 398L327.2 397" fill="none" stroke="#fff" stroke-width="0.7" stroke-opacity="0.6" stroke-linejoin="round" stroke-linecap="round"/>
<path d="M273.4 274.8L273.9 286.6" fill="none" stroke="#fff" stroke-width="0.7" stroke-opacity="0.6" stroke-linejoin="round" stroke-linecap="round"/>
<path d="M286.2 273.3L289.5 274.4" fill="none" stroke="#fff" stroke-width="0.7" stroke-opacity="0.6" stroke-linejoin="round" stroke-linecap="round"/>
<path d="M287.2 260.8L291.9 262.3L293.4 266.2L292.7 270.2L295 272.5" fill="none" stroke="#fff" stroke-width="0.7" stroke-opacity="0.6" stroke-linejoin="round" stroke-linecap="round"/>
<path d="M291.9 262.3L293.4 258.4L292.7 254.5" fill="none" stroke="#fff" stroke-width="0.7" stroke-opacity="0.6" stroke-linejoin="round" stroke-linecap="round"/>
<path d="M302 253.8L303.6 260L301.2 263.1L303.6 265.5" fill="none" stroke="#fff" stroke-width="0.7" stroke-opacity="0.6" stroke-linejoin="round" stroke-linecap="round"/>
<path d="M293.4 266.2L298.1 267L303.6 265.5L308.3 267" fill="none" stroke="#fff" stroke-width="0.7" stroke-opacity="0.6" stroke-linejoin="round" stroke-linecap="round"/>
<path d="M295 272.5L296.6 269.7L301.2 268.6L306.7 269.1" fill="none" stroke="#fff" stroke-width="0.7" stroke-opacity="0.6" stroke-linejoin="round" stroke-linecap="round"/>
<path d="M302 253.8L312.2 253L315.3 254.5L316.1 260L312.2 262.3L303.6 260" fill="none" stroke="#fff" stroke-width="0.7" stroke-opacity="0.6" stroke-linejoin="round" stroke-linecap="round"/>
<path d="M303.6 260L307.5 263.1L315.3 263.1L316.1 260" fill="none" stroke="#fff" stroke-width="0.7" stroke-opacity="0.6" stroke-linejoin="round" stroke-linecap="round"/>
<path d="M308.3 267L314.5 267L316.9 264.7L315.3 263.1" fill="none" stroke="#fff" stroke-width="0.7" stroke-opacity="0.6" stroke-linejoin="round" stroke-linecap="round"/>
<path d="M316.1 260L321.6 258.4L329.4 260L337.2 259.2L341.9 263.1" fill="none" stroke="#fff" stroke-width="0.7" stroke-opacity="0.6" stroke-linejoin="round" stroke-linecap="round"/>
<path d="M316.9 264.7L323.1 264.7L327.8 268.6" fill="none" stroke="#fff" stroke-width="0.7" stroke-opacity="0.6" stroke-linejoin="round" stroke-linecap="round"/>
<path d="M316.9 264.7L316.1 270.2L321.6 271.7L327 270.9" fill="none" stroke="#fff" stroke-width="0.7" stroke-opacity="0.6" stroke-linejoin="round" stroke-linecap="round"/>
<path d="M316.9 274.8L321.6 275.9L326.2 274.8" fill="none" stroke="#fff" stroke-width="0.7" stroke-opacity="0.6" stroke-linejoin="round" stroke-linecap="round"/>
<path d="M308.3 268.1L312.2 270.2L316.9 270.2" fill="none" stroke="#fff" stroke-width="0.7" stroke-opacity="0.6" stroke-linejoin="round" stroke-linecap="round"/>
<path d="M314.5 275.6L318.4 277.2L320 280.3" fill="none" stroke="#fff" stroke-width="0.7" stroke-opacity="0.6" stroke-linejoin="round" stroke-linecap="round"/>
<path d="M315.3 254.5L316.9 249.8L324.7 249.1L327.8 253.8L321.6 258.4" fill="none" stroke="#fff" stroke-width="0.7" stroke-opacity="0.6" stroke-linejoin="round" stroke-linecap="round"/>
<path d="M315.3 246.7L323.9 245.9" fill="none" stroke="#fff" stroke-width="0.7" stroke-opacity="0.6" stroke-linejoin="round" stroke-linecap="round"/>
<path d="M348.1 275.9L352.8 278L355.2 280.3" fill="none" stroke="#fff" stroke-width="0.7" stroke-opacity="0.6" stroke-linejoin="round" stroke-linecap="round"/>
<path d="M346.6 272.5L355.2 274.8" fill="none" stroke="#fff" stroke-width="0.7" stroke-opacity="0.6" stroke-linejoin="round" stroke-linecap="round"/>
<path d="M352.8 278L357.5 276.4" fill="none" stroke="#fff" stroke-width="0.7" stroke-opacity="0.6" stroke-linejoin="round" stroke-linecap="round"/>
<path d="M354.4 258.4L357.5 255.3L363.8 253.8L370 256.1" fill="none" stroke="#fff" stroke-width="0.7" stroke-opacity="0.6" stroke-linejoin="round" stroke-linecap="round"/>
<path d="M301.9 242.1L303.5 236.1L305.7 229.5L308.4 223.5L311.2 217.5L313.9 212.6L317.7 210.9" fill="none" stroke="#fff" stroke-width="0.7" stroke-opacity="0.6" stroke-linejoin="round" stroke-linecap="round"/>
<path d="M317.7 210.9L318.3 214.8L316.6 218.6L315.5 221.9" fill="none" stroke="#fff" stroke-width="0.7" stroke-opacity="0.6" stroke-linejoin="round" stroke-linecap="round"/>
<path d="M321.6 207.9L322.7 212L324.3 217.5L325.4 223L324.8 228.4L325.9 232.8L324.8 236.6" fill="none" stroke="#fff" stroke-width="0.7" stroke-opacity="0.6" stroke-linejoin="round" stroke-linecap="round"/>
<path d="M355.6 266.7L354.7 262.9L352.8 258.2L357.5 254.4L368.8 256.3L373.5 249.7L383.9 244.1L394.2 246.9L404.5 253.5L411.1 258.2L414.9 256.3" fill="none" stroke="#fff" stroke-width="0.7" stroke-opacity="0.6" stroke-linejoin="round" stroke-linecap="round"/>
<path d="M362.2 265.7L367.9 267.6L368.8 270.4L378.2 270.4L385.7 274.2L392.3 275.1L398.9 273.3L406.4 272.3" fill="none" stroke="#fff" stroke-width="0.7" stroke-opacity="0.6" stroke-linejoin="round" stroke-linecap="round"/>
<path d="M367.9 267.6L374.4 275.1L382.9 279.8L387.6 284.5" fill="none" stroke="#fff" stroke-width="0.7" stroke-opacity="0.6" stroke-linejoin="round" stroke-linecap="round"/>
<path d="M368.8 270.4L367.9 277L366 284.2" fill="none" stroke="#fff" stroke-width="0.7" stroke-opacity="0.6" stroke-linejoin="round" stroke-linecap="round"/>
<path d="M392.3 275.1L395.1 279.3L399.8 278.9" fill="none" stroke="#fff" stroke-width="0.7" stroke-opacity="0.6" stroke-linejoin="round" stroke-linecap="round"/>
<path d="M387.6 280.8L396.1 281.9" fill="none" stroke="#fff" stroke-width="0.7" stroke-opacity="0.6" stroke-linejoin="round" stroke-linecap="round"/>
<path d="M414.9 256.3L421.5 261L429 265.7L438.4 270.4L449.7 268.6L457.2 262.9L462.8 258.2L459.1 254.4L454.4 248.8" fill="none" stroke="#fff" stroke-width="0.7" stroke-opacity="0.6" stroke-linejoin="round" stroke-linecap="round"/>
<path d="M378.2 284.5L380.1 293.9L378.2 304.3" fill="none" stroke="#fff" stroke-width="0.7" stroke-opacity="0.6" stroke-linejoin="round" stroke-linecap="round"/>
<path d="M380.1 293.9L387.6 294.9L392.3 289.2L398.5 283.6" fill="none" stroke="#fff" stroke-width="0.7" stroke-opacity="0.6" stroke-linejoin="round" stroke-linecap="round"/>
<path d="M355.6 282.7L358.5 290.2L361.3 296.8" fill="none" stroke="#fff" stroke-width="0.7" stroke-opacity="0.6" stroke-linejoin="round" stroke-linecap="round"/>
<path d="M350 292.1L359.4 297.7" fill="none" stroke="#fff" stroke-width="0.7" stroke-opacity="0.6" stroke-linejoin="round" stroke-linecap="round"/>
<path d="M353.8 318.4L365 314.6L372.6 309L378.2 307.1" fill="none" stroke="#fff" stroke-width="0.7" stroke-opacity="0.6" stroke-linejoin="round" stroke-linecap="round"/>
<path d="M407.4 290.2L414.9 295.8L424.3 300" fill="none" stroke="#fff" stroke-width="0.7" stroke-opacity="0.6" stroke-linejoin="round" stroke-linecap="round"/>
<path d="M424.3 302.4L425.2 308.1L428.1 306.2" fill="none" stroke="#fff" stroke-width="0.7" stroke-opacity="0.6" stroke-linejoin="round" stroke-linecap="round"/>
<path d="M478 272.3L480.8 269.3L484.2 265.7" fill="none" stroke="#fff" stroke-width="0.7" stroke-opacity="0.6" stroke-linejoin="round" stroke-linecap="round"/>
<path d="M479.8 277.4L484.2 276.4" fill="none" stroke="#fff" stroke-width="0.7" stroke-opacity="0.6" stroke-linejoin="round" stroke-linecap="round"/>
<path d="M435.6 308.4L438.5 315.9L440.3 323.4L443.2 329.1" fill="none" stroke="#fff" stroke-width="0.7" stroke-opacity="0.6" stroke-linejoin="round" stroke-linecap="round"/>
<path d="M438.5 308.4L445 310.3L450.7 315.9L453.5 321.6" fill="none" stroke="#fff" stroke-width="0.7" stroke-opacity="0.6" stroke-linejoin="round" stroke-linecap="round"/>
<path d="M445 306.5L450.7 312.2L454.4 319.7" fill="none" stroke="#fff" stroke-width="0.7" stroke-opacity="0.6" stroke-linejoin="round" stroke-linecap="round"/>
<path d="M448.8 322.5L454.4 323.4" fill="none" stroke="#fff" stroke-width="0.7" stroke-opacity="0.6" stroke-linejoin="round" stroke-linecap="round"/>
<path d="M434.7 299L439.4 302.8L445 305.6L450.7 304.6L456.3 306.5" fill="none" stroke="#fff" stroke-width="0.7" stroke-opacity="0.6" stroke-linejoin="round" stroke-linecap="round"/>
<path d="M170.4 328.5L174.2 336.9L180.8 337.9L181.7 344.4" fill="none" stroke="#fff" stroke-width="0.7" stroke-opacity="0.6" stroke-linejoin="round" stroke-linecap="round"/>
<path d="M181.7 344.4L186.4 341.6L190.2 336.9" fill="none" stroke="#fff" stroke-width="0.7" stroke-opacity="0.6" stroke-linejoin="round" stroke-linecap="round"/>
<path d="M158.2 342.6L165.7 348.2L174.2 346.3L181.7 344.4" fill="none" stroke="#fff" stroke-width="0.7" stroke-opacity="0.6" stroke-linejoin="round" stroke-linecap="round"/>
<path d="M156.9 350.1L162.9 352L167.6 355.7" fill="none" stroke="#fff" stroke-width="0.7" stroke-opacity="0.6" stroke-linejoin="round" stroke-linecap="round"/>
<path d="M167.6 355.7L168.6 362.3L175.1 366.1L179.3 365.1L181.7 368.9" fill="none" stroke="#fff" stroke-width="0.7" stroke-opacity="0.6" stroke-linejoin="round" stroke-linecap="round"/>
<path d="M179.3 365.1L186.4 370.8L192.1 374.5L192.1 380.2L186.4 383L180.8 384.9L179.3 380.2L175.1 378.3" fill="none" stroke="#fff" stroke-width="0.7" stroke-opacity="0.6" stroke-linejoin="round" stroke-linecap="round"/>
<path d="M192.1 380.2L198.6 384.9L200.5 392.4L195.8 395.2L192.1 390.5L186.4 383" fill="none" stroke="#fff" stroke-width="0.7" stroke-opacity="0.6" stroke-linejoin="round" stroke-linecap="round"/>
<path d="M179.3 380.2L178.5 395.2L177 410.3L178 425.3L179.8 437" fill="none" stroke="#fff" stroke-width="0.7" stroke-opacity="0.6" stroke-linejoin="round" stroke-linecap="round"/>
<path d="M195.8 395.2L197.7 402.8L202.4 405.6" fill="none" stroke="#fff" stroke-width="0.7" stroke-opacity="0.6" stroke-linejoin="round" stroke-linecap="round"/>
<path d="M195.8 395.2L194.9 411.2" fill="none" stroke="#fff" stroke-width="0.7" stroke-opacity="0.6" stroke-linejoin="round" stroke-linecap="round"/>
<path d="M179.8 400L179.3 411.3L180.4 422.6L181.7 433.9L183.6 443.3L186.4 448" fill="none" stroke="#fff" stroke-width="0.7" stroke-opacity="0.6" stroke-linejoin="round" stroke-linecap="round"/>
<path d="M144.1 319.5L144.7 323.5L142.5 325.4" fill="none" stroke="#fff" stroke-width="0.7" stroke-opacity="0.6" stroke-linejoin="round" stroke-linecap="round"/>
<path d="M146.9 322.6L148.5 326.2L147.4 328.2" fill="none" stroke="#fff" stroke-width="0.7" stroke-opacity="0.6" stroke-linejoin="round" stroke-linecap="round"/>
<path d="M151.8 331.2L150.7 331.9" fill="none" stroke="#fff" stroke-width="0.7" stroke-opacity="0.6" stroke-linejoin="round" stroke-linecap="round"/>
<path d="M155.1 333.4L154.7 334.7" fill="none" stroke="#fff" stroke-width="0.7" stroke-opacity="0.6" stroke-linejoin="round" stroke-linecap="round"/>
<path d="M512.2 353L512.5 363" fill="none" stroke="#fff" stroke-width="0.7" stroke-opacity="0.6" stroke-linejoin="round" stroke-linecap="round"/>
<path d="M461.4 349.3L467 347L473.6 346.6" fill="none" stroke="#fff" stroke-width="0.7" stroke-opacity="0.6" stroke-linejoin="round" stroke-linecap="round"/>
</g>
<path d="M69.8 38.5V186" stroke="#6b9e55" stroke-width="2.3" fill="none"/>
<path d="M282.7 38.5V278.5" stroke="#e88204" stroke-width="2.3" fill="none"/>
<circle cx="282.6" cy="283" r="4.3" fill="none" stroke="#e88204" stroke-width="2.1"/>
<path d="M501.8 38.5V154" stroke="#285398" stroke-width="2.3" fill="none"/>
<circle cx="501.8" cy="158" r="4.3" fill="#fff" stroke="#285398" stroke-width="2.1"/>
<path d="M110.2 534.5V398.8H160.2" stroke="#62c1c5" stroke-width="2.3" fill="none"/>
<circle cx="164.7" cy="398.8" r="4.3" fill="#fff" stroke="#62c1c5" stroke-width="2.1"/>
<path d="M277.8 543V361" stroke="#a05a7f" stroke-width="2.3" fill="none"/>
<circle cx="277.8" cy="356.6" r="4.3" fill="#fff" stroke="#a05a7f" stroke-width="2.1"/>
<path d="M416 486.5V348.5" stroke="#e65b56" stroke-width="2.3" fill="none"/>
<circle cx="415.8" cy="344" r="4.3" fill="#fff" stroke="#e65b56" stroke-width="2.1"/>
<path d="M532 590V421.5" stroke="#81569d" stroke-width="2.3" fill="none"/>
<circle cx="532" cy="417.2" r="4.3" fill="#fff" stroke="#81569d" stroke-width="2.1"/>
<g font-family="'DejaVu Serif', 'Liberation Serif', serif">
<circle cx="69.5" cy="89.6" r="45.6" fill="#fff" stroke="#6b9e55" stroke-width="1.6"/>
<path d="M23.00 89.6A46.5 46.5 0 0 0 116.00 89.6Z" fill="#6b9e55"/>
<text x="69.5" y="67.6" font-size="11" fill="#6b9e55" text-anchor="middle" stroke="#6b9e55" stroke-width="0.3" textLength="25" lengthAdjust="spacingAndGlyphs">2045</text>
<text x="69.8" y="82.8" fill="#6b9e55" text-anchor="middle" stroke="#6b9e55" stroke-width="0.3" textLength="58" lengthAdjust="spacingAndGlyphs"><tspan font-size="15.2">62</tspan><tspan font-size="11.2">million</tspan></text>
<text x="69.8" y="106.19999999999999" fill="#fff" text-anchor="middle" stroke="#fff" stroke-width="0.3" textLength="58.5" lengthAdjust="spacingAndGlyphs"><tspan font-size="15.2" font-weight="bold">46</tspan><tspan font-size="11.2">million</tspan></text>
<text x="69.5" y="119.39999999999999" font-size="11" fill="#fff" text-anchor="middle" stroke="#fff" stroke-width="0.3" textLength="24" lengthAdjust="spacingAndGlyphs">2017</text>
<text x="69.7" y="20" font-size="12" fill="#6b9e55" text-anchor="middle" font-weight="bold" textLength="99.5" lengthAdjust="spacingAndGlyphs">North America</text>
<text x="69" y="33.2" font-size="12" fill="#6b9e55" text-anchor="middle" font-weight="bold" textLength="82" lengthAdjust="spacingAndGlyphs">&amp; Caribbean</text>
<path d="M127 102V81.8" stroke="#6b9e55" stroke-width="1.8" fill="none"/>
<path d="M127 78.8L133 86.39999999999999H121Z" fill="#6b9e55"/>
<text x="135.8" y="85.7" font-size="11.5" fill="#6b9e55" text-anchor="start" stroke="#6b9e55" stroke-width="0.3" textLength="45" lengthAdjust="spacingAndGlyphs">increase</text>
<text x="135.8" y="102" font-size="14.6" fill="#6b9e55" text-anchor="start" stroke="#6b9e55" stroke-width="0.3" textLength="31" lengthAdjust="spacingAndGlyphs">35%</text>
<circle cx="282.5" cy="89.8" r="45.6" fill="#fff" stroke="#e88204" stroke-width="1.6"/>
<path d="M236.00 89.8A46.5 46.5 0 0 0 329.00 89.8Z" fill="#e88204"/>
<text x="282.5" y="67.8" font-size="11" fill="#e88204" text-anchor="middle" stroke="#e88204" stroke-width="0.3" textLength="25" lengthAdjust="spacingAndGlyphs">2045</text>
<text x="282.8" y="83.0" fill="#e88204" text-anchor="middle" stroke="#e88204" stroke-width="0.3" textLength="60.5" lengthAdjust="spacingAndGlyphs"><tspan font-size="15.2">82</tspan><tspan font-size="11.2"> million</tspan></text>
<text x="282.8" y="106.4" fill="#fff" text-anchor="middle" stroke="#fff" stroke-width="0.3" textLength="57.2" lengthAdjust="spacingAndGlyphs"><tspan font-size="15.2" font-weight="bold">39</tspan><tspan font-size="11.2">million</tspan></text>
<text x="282.5" y="119.6" font-size="11" fill="#fff" text-anchor="middle" stroke="#fff" stroke-width="0.3" textLength="24" lengthAdjust="spacingAndGlyphs">2017</text>
<text x="283.5" y="20" font-size="12" fill="#e88204" text-anchor="middle" font-weight="bold" textLength="77" lengthAdjust="spacingAndGlyphs">Middle East</text>
<text x="283.4" y="33.2" font-size="12" fill="#e88204" text-anchor="middle" font-weight="bold" textLength="96.8" lengthAdjust="spacingAndGlyphs">&amp; North Africa</text>
<path d="M340 102V81.8" stroke="#e88204" stroke-width="1.8" fill="none"/>
<path d="M340 78.8L346 86.39999999999999H334Z" fill="#e88204"/>
<text x="348.8" y="85.7" font-size="11.5" fill="#e88204" text-anchor="start" stroke="#e88204" stroke-width="0.3" textLength="45" lengthAdjust="spacingAndGlyphs">increase</text>
<text x="348.8" y="102" font-size="14.6" fill="#e88204" text-anchor="start" stroke="#e88204" stroke-width="0.3" textLength="38.2" lengthAdjust="spacingAndGlyphs">110%</text>
<circle cx="500.5" cy="89.8" r="45.6" fill="#fff" stroke="#285398" stroke-width="1.6"/>
<path d="M454.00 89.8A46.5 46.5 0 0 0 547.00 89.8Z" fill="#285398"/>
<text x="500.5" y="67.8" font-size="11" fill="#285398" text-anchor="middle" stroke="#285398" stroke-width="0.3" textLength="25" lengthAdjust="spacingAndGlyphs">2045</text>
<text x="500.8" y="83.0" fill="#285398" text-anchor="middle" stroke="#285398" stroke-width="0.3" textLength="57" lengthAdjust="spacingAndGlyphs"><tspan font-size="15.2">67</tspan><tspan font-size="11.2">million</tspan></text>
<text x="500.8" y="106.4" fill="#fff" text-anchor="middle" stroke="#fff" stroke-width="0.3" textLength="58.2" lengthAdjust="spacingAndGlyphs"><tspan font-size="15.2" font-weight="bold">58</tspan><tspan font-size="11.2">million</tspan></text>
<text x="500.5" y="119.6" font-size="11" fill="#fff" text-anchor="middle" stroke="#fff" stroke-width="0.3" textLength="24" lengthAdjust="spacingAndGlyphs">2017</text>
<text x="502" y="35" font-size="12" fill="#285398" text-anchor="middle" font-weight="bold" textLength="47.8" lengthAdjust="spacingAndGlyphs">Europe</text>
<path d="M557 102.2V82" stroke="#285398" stroke-width="1.8" fill="none"/>
<path d="M557 79L563 86.6H551Z" fill="#285398"/>
<text x="566" y="85.7" font-size="11.5" fill="#285398" text-anchor="start" stroke="#285398" stroke-width="0.3" textLength="45" lengthAdjust="spacingAndGlyphs">increase</text>
<text x="566" y="101.8" font-size="14.6" fill="#285398" text-anchor="start" stroke="#285398" stroke-width="0.3" textLength="28.7" lengthAdjust="spacingAndGlyphs">16%</text>
<circle cx="592.3" cy="307.7" r="45.6" fill="#fff" stroke="#5d8acb" stroke-width="1.6"/>
<path d="M545.80 307.7A46.5 46.5 0 0 0 638.80 307.7Z" fill="#5d8acb"/>
<text x="592.3" y="286.4" font-size="11" fill="#5d8acb" text-anchor="middle" stroke="#5d8acb" stroke-width="0.3" textLength="25" lengthAdjust="spacingAndGlyphs">2045</text>
<text x="592.5999999999999" y="301.4" fill="#5d8acb" text-anchor="middle" stroke="#5d8acb" stroke-width="0.3" textLength="67.8" lengthAdjust="spacingAndGlyphs"><tspan font-size="15.2">629</tspan><tspan font-size="11.2">million</tspan></text>
<text x="592.5999999999999" y="324.7" fill="#fff" text-anchor="middle" stroke="#fff" stroke-width="0.3" textLength="67.8" lengthAdjust="spacingAndGlyphs"><tspan font-size="15.2" font-weight="bold">425</tspan><tspan font-size="11.2">million</tspan></text>
<text x="592.3" y="338.2" font-size="11" fill="#fff" text-anchor="middle" stroke="#fff" stroke-width="0.3" textLength="24" lengthAdjust="spacingAndGlyphs">2017</text>
<text x="591.4" y="372" font-size="12.6" fill="#5d8acb" text-anchor="middle" font-weight="bold" textLength="52.1" lengthAdjust="spacingAndGlyphs">WORLD</text>
<path d="M533.4 330.2V309.4" stroke="#5d8acb" stroke-width="1.8" fill="none"/>
<path d="M533.4 306.4L539.4 314.0H527.4Z" fill="#5d8acb"/>
<text x="525.9" y="313.4" font-size="11.5" fill="#5d8acb" text-anchor="end" stroke="#5d8acb" stroke-width="0.3" textLength="45" lengthAdjust="spacingAndGlyphs">increase</text>
<text x="525.9" y="330.6" font-size="14.6" fill="#5d8acb" text-anchor="end" stroke="#5d8acb" stroke-width="0.3" textLength="33" lengthAdjust="spacingAndGlyphs">48%</text>
<circle cx="110.6" cy="480.8" r="45.6" fill="#fff" stroke="#62c1c5" stroke-width="1.6"/>
<path d="M64.10 480.2A46.5 46.5 0 1 0 157.10 480.2Z" fill="#62c1c5"/>
<text x="110.6" y="458.8" font-size="11" fill="#62c1c5" text-anchor="middle" stroke="#62c1c5" stroke-width="0.3" textLength="25" lengthAdjust="spacingAndGlyphs">2045</text>
<text x="110.89999999999999" y="474.0" fill="#62c1c5" text-anchor="middle" stroke="#62c1c5" stroke-width="0.3" textLength="57" lengthAdjust="spacingAndGlyphs"><tspan font-size="15.2">42</tspan><tspan font-size="11.2">million</tspan></text>
<text x="110.89999999999999" y="497.40000000000003" fill="#fff" text-anchor="middle" stroke="#fff" stroke-width="0.3" textLength="58.2" lengthAdjust="spacingAndGlyphs"><tspan font-size="15.2" font-weight="bold">26</tspan><tspan font-size="11.2">million</tspan></text>
<text x="110.6" y="510.6" font-size="11" fill="#fff" text-anchor="middle" stroke="#fff" stroke-width="0.3" textLength="24" lengthAdjust="spacingAndGlyphs">2017</text>
<text x="110.5" y="548.6" font-size="12" fill="#62c1c5" text-anchor="middle" font-weight="bold" textLength="107" lengthAdjust="spacingAndGlyphs">South &amp; Central</text>
<text x="111.3" y="561.8" font-size="12" fill="#62c1c5" text-anchor="middle" font-weight="bold" textLength="54.6" lengthAdjust="spacingAndGlyphs">America</text>
<path d="M53.4 492V471" stroke="#62c1c5" stroke-width="1.8" fill="none"/>
<path d="M53.4 468L59.4 475.6H47.4Z" fill="#62c1c5"/>
<text x="45.9" y="475.7" font-size="11.5" fill="#62c1c5" text-anchor="end" stroke="#62c1c5" stroke-width="0.3" textLength="45" lengthAdjust="spacingAndGlyphs">increase</text>
<text x="45.9" y="492" font-size="14.6" fill="#62c1c5" text-anchor="end" stroke="#62c1c5" stroke-width="0.3" textLength="32" lengthAdjust="spacingAndGlyphs">62%</text>
<circle cx="278.3" cy="490.2" r="45.6" fill="#fff" stroke="#a05a7f" stroke-width="1.6"/>
<path d="M231.82 488.8A46.5 46.5 0 1 0 324.78 488.8Z" fill="#a05a7f"/>
<text x="278.3" y="468.2" font-size="11" fill="#a05a7f" text-anchor="middle" stroke="#a05a7f" stroke-width="0.3" textLength="25" lengthAdjust="spacingAndGlyphs">2045</text>
<text x="278.6" y="483.4" fill="#a05a7f" text-anchor="middle" stroke="#a05a7f" stroke-width="0.3" textLength="56" lengthAdjust="spacingAndGlyphs"><tspan font-size="15.2">41</tspan><tspan font-size="11.2">million</tspan></text>
<text x="278.6" y="506.8" fill="#fff" text-anchor="middle" stroke="#fff" stroke-width="0.3" textLength="57" lengthAdjust="spacingAndGlyphs"><tspan font-size="15.2" font-weight="bold">16</tspan><tspan font-size="11.2">million</tspan></text>
<text x="278.3" y="520.0" font-size="11" fill="#fff" text-anchor="middle" stroke="#fff" stroke-width="0.3" textLength="24" lengthAdjust="spacingAndGlyphs">2017</text>
<text x="277.8" y="554.6" font-size="12" fill="#a05a7f" text-anchor="middle" font-weight="bold" textLength="40.2" lengthAdjust="spacingAndGlyphs">Africa</text>
<path d="M221.4 501.5V481" stroke="#a05a7f" stroke-width="1.8" fill="none"/>
<path d="M221.4 478L227.4 485.6H215.4Z" fill="#a05a7f"/>
<text x="213.4" y="485.2" font-size="11.5" fill="#a05a7f" text-anchor="end" stroke="#a05a7f" stroke-width="0.3" textLength="45" lengthAdjust="spacingAndGlyphs">increase</text>
<text x="213.4" y="501.5" font-size="14.6" fill="#a05a7f" text-anchor="end" stroke="#a05a7f" stroke-width="0.3" textLength="39.6" lengthAdjust="spacingAndGlyphs">156%</text>
<circle cx="416.4" cy="433.6" r="45.6" fill="#fff" stroke="#e65b56" stroke-width="1.6"/>
<path d="M369.90 433.1A46.5 46.5 0 1 0 462.90 433.1Z" fill="#e65b56"/>
<text x="416.4" y="411.6" font-size="11" fill="#e65b56" text-anchor="middle" stroke="#e65b56" stroke-width="0.3" textLength="25" lengthAdjust="spacingAndGlyphs">2045</text>
<text x="416.7" y="426.8" fill="#e65b56" text-anchor="middle" stroke="#e65b56" stroke-width="0.3" textLength="62.2" lengthAdjust="spacingAndGlyphs"><tspan font-size="15.2">151</tspan><tspan font-size="11.2">million</tspan></text>
<text x="416.7" y="450.20000000000005" fill="#fff" text-anchor="middle" stroke="#fff" stroke-width="0.3" textLength="57.8" lengthAdjust="spacingAndGlyphs"><tspan font-size="15.2" font-weight="bold">82</tspan><tspan font-size="11.2">million</tspan></text>
<text x="416.4" y="463.40000000000003" font-size="11" fill="#fff" text-anchor="middle" stroke="#fff" stroke-width="0.3" textLength="24" lengthAdjust="spacingAndGlyphs">2017</text>
<text x="416.5" y="499.5" font-size="12" fill="#e65b56" text-anchor="middle" font-weight="bold" textLength="39.2" lengthAdjust="spacingAndGlyphs">South</text>
<text x="416.4" y="512.8" font-size="12" fill="#e65b56" text-anchor="middle" font-weight="bold" textLength="60.2" lengthAdjust="spacingAndGlyphs">East Asia</text>
<path d="M359.4 445.3V424.5" stroke="#e65b56" stroke-width="1.8" fill="none"/>
<path d="M359.4 421.5L365.4 429.1H353.4Z" fill="#e65b56"/>
<text x="350.9" y="429" font-size="11.5" fill="#e65b56" text-anchor="end" stroke="#e65b56" stroke-width="0.3" textLength="45" lengthAdjust="spacingAndGlyphs">increase</text>
<text x="350.9" y="445.3" font-size="14.6" fill="#e65b56" text-anchor="end" stroke="#e65b56" stroke-width="0.3" textLength="31" lengthAdjust="spacingAndGlyphs">84%</text>
<circle cx="533" cy="536.8" r="45.6" fill="#fff" stroke="#81569d" stroke-width="1.6"/>
<path d="M486.50 536.2A46.5 46.5 0 1 0 579.50 536.2Z" fill="#81569d"/>
<text x="533" y="514.8" font-size="11" fill="#81569d" text-anchor="middle" stroke="#81569d" stroke-width="0.3" textLength="25" lengthAdjust="spacingAndGlyphs">2045</text>
<text x="533.3" y="530.0" fill="#81569d" text-anchor="middle" stroke="#81569d" stroke-width="0.3" textLength="65.7" lengthAdjust="spacingAndGlyphs"><tspan font-size="15.2">183</tspan><tspan font-size="11.2">million</tspan></text>
<text x="533.3" y="553.4" fill="#fff" text-anchor="middle" stroke="#fff" stroke-width="0.3" textLength="66.2" lengthAdjust="spacingAndGlyphs"><tspan font-size="15.2" font-weight="bold">159</tspan><tspan font-size="11.2">million</tspan></text>
<text x="533" y="566.5999999999999" font-size="11" fill="#fff" text-anchor="middle" stroke="#fff" stroke-width="0.3" textLength="24" lengthAdjust="spacingAndGlyphs">2017</text>
<text x="531.3" y="603.8" font-size="12" fill="#81569d" text-anchor="middle" font-weight="bold" textLength="54.6" lengthAdjust="spacingAndGlyphs">Western</text>
<text x="531.1" y="617.1" font-size="12" fill="#81569d" text-anchor="middle" font-weight="bold" textLength="45.8" lengthAdjust="spacingAndGlyphs">Pacific</text>
<path d="M476.4 550.5V530.4" stroke="#81569d" stroke-width="1.8" fill="none"/>
<path d="M476.4 527.4L482.4 535.0H470.4Z" fill="#81569d"/>
<text x="467.1" y="534.2" font-size="11.5" fill="#81569d" text-anchor="end" stroke="#81569d" stroke-width="0.3" textLength="45" lengthAdjust="spacingAndGlyphs">increase</text>
<text x="467.1" y="550.5" font-size="14.6" fill="#81569d" text-anchor="end" stroke="#81569d" stroke-width="0.3" textLength="29.1" lengthAdjust="spacingAndGlyphs">15%</text>
</g>
</svg></body></html>
